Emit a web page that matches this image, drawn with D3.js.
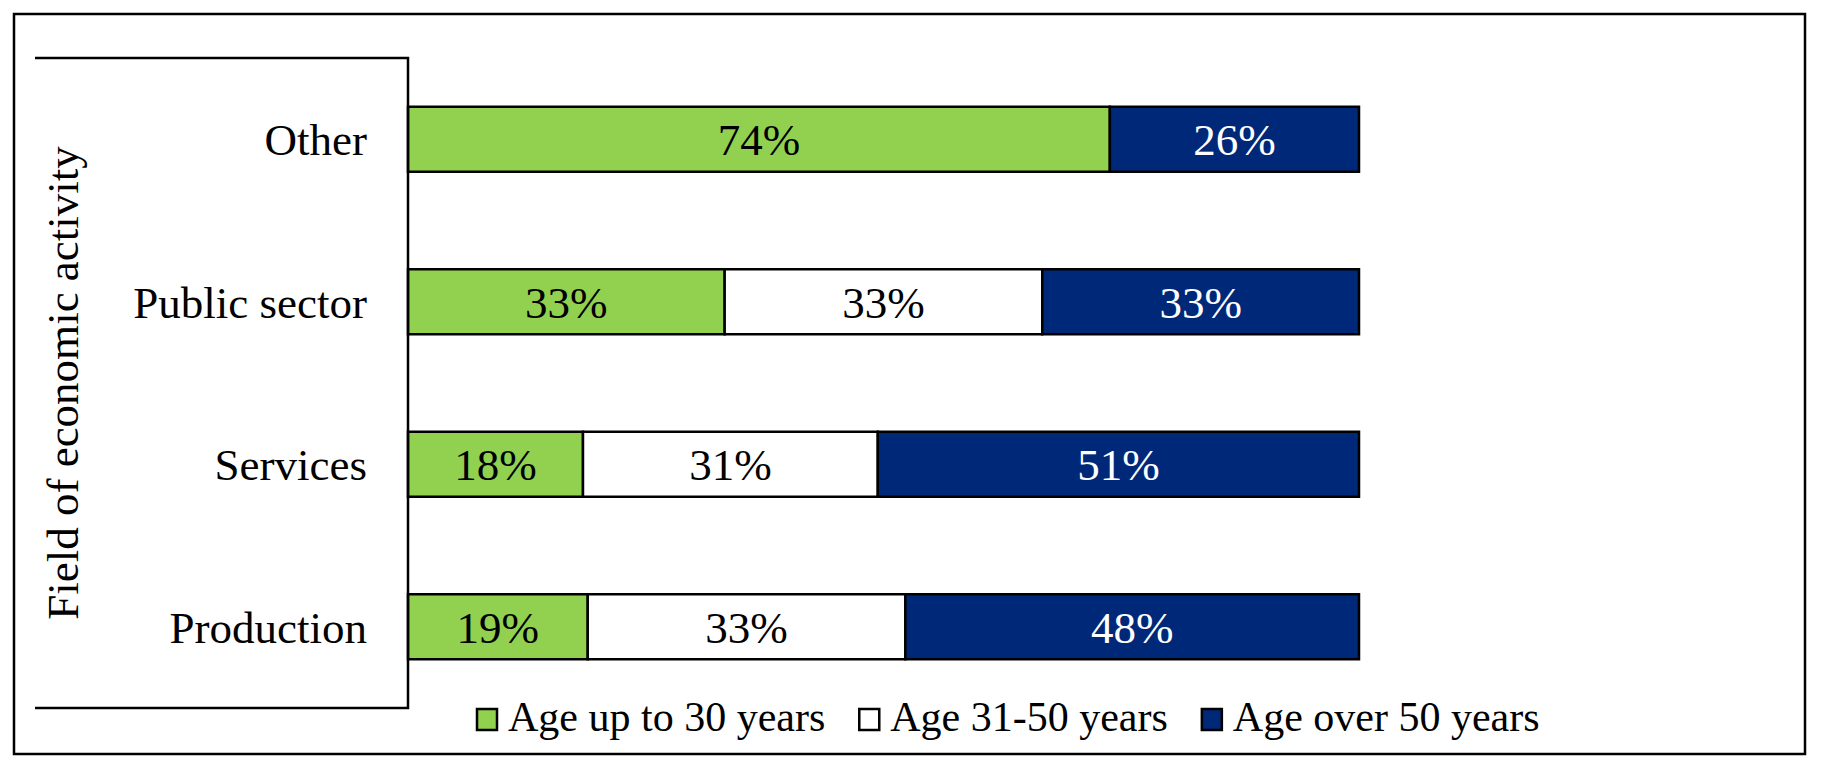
<!DOCTYPE html>
<html>
<head>
<meta charset="utf-8">
<script src="https://cdn.jsdelivr.net/npm/d3@7"></script>
<style>
  body { margin: 0; background: #fff; }
  text { font-family: "Liberation Serif", "Times New Roman", serif; }
</style>
</head>
<body>
<div id="chart"></div>
<script>
// categories top to bottom
const categories = ["Other", "Public sector", "Services", "Production"];

// shares in percent
const upTo30 = [73.8, 33.3, 18.4, 18.9];
const age31to50 = [0, 33.4, 31.0, 33.4];
const over50 = [26.2, 33.3, 50.6, 47.7];

const seriesNames = ["Age up to 30 years", "Age 31-50 years", "Age over 50 years"];
const seriesColors = ["#92d050", "#ffffff", "#002878"];
const labelColors = ["#000", "#000", "#fff"];

const width = 1832, height = 776;

const svg = d3.select('#chart').append('svg')
    .attr('width', width)
    .attr('height', height);

// outer frame
svg.append('rect')
    .attr('x', 14).attr('y', 14)
    .attr('width', 1791).attr('height', 740)
    .attr('fill', '#fff')
    .attr('stroke', '#000')
    .attr('stroke-width', 2.5);

const x = d3.scaleLinear().domain([0, 100]).range([408, 1359]);
const y = d3.scaleBand()
    .domain(categories)
    .range([58, 708])
    .paddingInner(0.6)
    .paddingOuter(0.3);

// stack the series
const rows = categories.map((c, i) => ({
    category: c, values: [upTo30[i], age31to50[i], over50[i]]
}));
const segments = [];
rows.forEach(r => {
    let start = 0;
    r.values.forEach((v, s) => {
        if (v > 0) segments.push({ category: r.category, series: s, x0: start, x1: start + v, value: v });
        start += v;
    });
});

const seg = svg.append('g').selectAll('g')
    .data(segments)
    .enter()
    .append('g');

seg.append('rect')
    .attr('x', d => x(d.x0))
    .attr('y', d => y(d.category))
    .attr('width', d => x(d.x1) - x(d.x0))
    .attr('height', y.bandwidth())
    .attr('fill', d => seriesColors[d.series])
    .attr('stroke', '#000')
    .attr('stroke-width', 2.5);

seg.append('text')
    .attr('x', d => (x(d.x0) + x(d.x1)) / 2)
    .attr('y', d => y(d.category) + y.bandwidth() / 2 + 16)
    .attr('text-anchor', 'middle')
    .attr('font-size', 45)
    .attr('fill', d => labelColors[d.series])
    .text(d => d3.format('.0f')(d.value) + '%');

// category axis box
const axisG = svg.append('g')
    .attr('stroke', '#000')
    .attr('stroke-width', 2.5)
    .attr('fill', 'none');
axisG.append('path')
    .attr('d', `M35,${y.range()[0]}H${x(0)}V${y.range()[1]}H35`);

svg.append('g').selectAll('text')
    .data(categories)
    .enter()
    .append('text')
    .attr('x', 367)
    .attr('y', d => y(d) + y.bandwidth() / 2 + 16)
    .attr('text-anchor', 'end')
    .attr('font-size', 45)
    .text(d => d);

// axis title
svg.append('text')
    .attr('transform', `translate(78, ${(y.range()[0] + y.range()[1]) / 2}) rotate(-90)`)
    .attr('text-anchor', 'middle')
    .attr('font-size', 45)
    .text('Field of economic activity');

// legend
const legend = svg.append('g');
let lx = 477;
seriesNames.forEach((name, i) => {
    legend.append('rect')
        .attr('x', lx).attr('y', 709)
        .attr('width', 20).attr('height', 21)
        .attr('fill', seriesColors[i])
        .attr('stroke', '#000')
        .attr('stroke-width', 2.5);
    const t = legend.append('text')
        .attr('x', lx + 31)
        .attr('y', 731)
        .attr('font-size', 42)
        .text(name);
    lx = lx + 31 + t.node().getComputedTextLength() + 34;
});
</script>
</body>
</html>
